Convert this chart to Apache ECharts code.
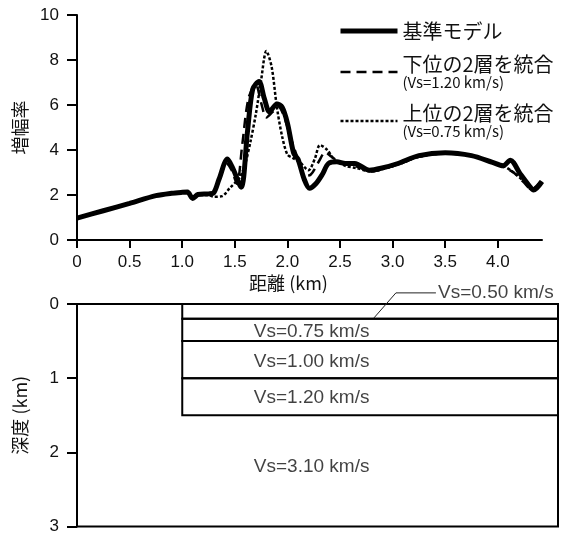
<!DOCTYPE html>
<html>
<head>
<meta charset="utf-8">
<script src="https://cdn.jsdelivr.net/npm/echarts@6/dist/echarts.min.js"></script>
<style>
html, body { margin: 0; padding: 0; background: #fff; }
#echart { width: 573px; height: 535px; }
</style>
</head>
<body>
<div id="echart"></div>
<script>
// 増幅率 (top chart)
var baseKm  = [0, 0.25, 0.5, 0.75, 0.9, 1.0, 1.05, 1.1, 1.15, 1.25, 1.3, 1.35, 1.43, 1.48, 1.56, 1.62, 1.67, 1.73, 1.78, 1.83, 1.9, 1.95, 2.0, 2.06, 2.1, 2.16, 2.21, 2.27, 2.33, 2.39, 2.47, 2.55, 2.64, 2.78, 2.9, 3.05, 3.25, 3.5, 3.75, 3.95, 4.05, 4.12, 4.21, 4.3, 4.34, 4.42];
var baseAmp = [0.97, 1.3, 1.63, 1.97, 2.08, 2.12, 2.13, 1.85, 2.02, 2.05, 2.1, 2.7, 3.6, 3.2, 2.35, 4.8, 6.7, 7.05, 6.3, 5.7, 6.05, 5.9, 5.2, 3.85, 3.6, 2.7, 2.3, 2.5, 2.9, 3.4, 3.48, 3.4, 3.4, 3.1, 3.2, 3.4, 3.75, 3.88, 3.75, 3.45, 3.3, 3.55, 2.96, 2.4, 2.22, 2.6];

var lowerKm  = [0, 0.25, 0.5, 0.75, 0.9, 1.0, 1.05, 1.1, 1.15, 1.25, 1.3, 1.35, 1.42, 1.47, 1.52, 1.57, 1.63, 1.7, 1.75, 1.8, 1.86, 1.91, 1.96, 2.02, 2.1, 2.16, 2.22, 2.3, 2.36, 2.42, 2.5, 2.6, 2.7, 2.8, 2.9, 3.05, 3.25, 3.5, 3.75, 3.95, 4.05, 4.15, 4.25, 4.32, 4.42];
var lowerAmp = [0.97, 1.3, 1.63, 1.97, 2.08, 2.12, 2.13, 1.87, 2.02, 2.05, 2.1, 2.6, 3.4, 3.1, 2.5, 4.2, 6.3, 6.9, 6.1, 5.45, 5.7, 5.95, 5.6, 4.7, 3.6, 2.85, 2.9, 3.5, 3.9, 3.7, 3.45, 3.35, 3.2, 3.05, 3.15, 3.35, 3.7, 3.85, 3.75, 3.45, 3.25, 3.0, 2.55, 2.25, 2.7];

var upperKm  = [0, 0.25, 0.5, 0.75, 0.9, 1.0, 1.05, 1.1, 1.15, 1.25, 1.3, 1.38, 1.45, 1.55, 1.6, 1.65, 1.7, 1.75, 1.8, 1.85, 1.9, 1.95, 2.0, 2.05, 2.12, 2.2, 2.26, 2.31, 2.38, 2.45, 2.55, 2.65, 2.8, 2.9, 3.05, 3.25, 3.5, 3.75, 3.95, 4.05, 4.15, 4.25, 4.32, 4.42];
var upperAmp = [0.97, 1.3, 1.63, 1.97, 2.08, 2.12, 2.13, 1.87, 2.0, 2.0, 1.92, 1.95, 2.3, 2.8, 3.4, 4.4, 5.6, 7.1, 8.4, 7.7, 5.9, 4.6, 3.8, 3.65, 3.45, 3.1, 3.6, 4.22, 4.0, 3.55, 3.3, 3.2, 3.05, 3.15, 3.35, 3.7, 3.85, 3.75, 3.45, 3.3, 3.0, 2.6, 2.25, 2.6];

var seriesNames = ['基準モデル', '下位の2層を統合', '上位の2層を統合'];
var seriesNotes = ['', '(Vs=1.20 km/s)', '(Vs=0.75 km/s)'];
var distTicks = [0, 0.5, 1.0, 1.5, 2.0, 2.5, 3.0, 3.5, 4.0];

// 深度 (bottom chart)
var layerTop = [0, 0.2, 0.5, 1.0];
var layerBottom = [0.2, 0.5, 1.0, 1.5];
var layerStartKm = 1.0;
var modelEndKm = 4.57;
var vsLabels = ['Vs=0.75 km/s', 'Vs=1.00 km/s', 'Vs=1.20 km/s', 'Vs=3.10 km/s'];
var vsLabelDepth = [0.38, 0.78, 1.27, 2.19];
var vsLabelKm = 1.68;
var surfaceLabel = 'Vs=0.50 km/s';
var surfaceLabelPos = [3.43, -0.15];
var leaderLine = [[2.82, 0.19], [3.03, -0.15], [3.41, -0.15]];

function zip(xs, ys) {
    return xs.map(function (x, i) { return [x, ys[i]]; });
}

var latin = 'Liberation Sans';
var cjk = 'Noto Sans CJK JP';

var myChart = echarts.init(document.getElementById('echart'));

option = {
    backgroundColor: '#fff',
    animation: false,
    legend: {
        orient: 'vertical',
        left: 338,
        top: 21,
        padding: 0,
        itemWidth: 57,
        itemHeight: 14,
        itemGap: 13,
        itemStyle: { opacity: 0 },
        textStyle: {
            fontFamily: cjk,
            fontSize: 20,
            color: '#111',
            rich: {
                t: { fontFamily: cjk, fontSize: 20, color: '#111', lineHeight: 21 },
                s: { fontFamily: cjk, fontSize: 15, color: '#111', lineHeight: 16 }
            }
        },
        formatter: function (name) {
            var i = seriesNames.indexOf(name);
            if (!seriesNotes[i]) return '{t|' + name + '}';
            return '{t|' + name + '}\n{s|' + seriesNotes[i] + '}';
        },
        data: [
            { name: seriesNames[0], lineStyle: { width: 5, type: 'solid' } },
            { name: seriesNames[1], lineStyle: { width: 2.5, type: [10, 6] } },
            { name: seriesNames[2], lineStyle: { width: 2.5, type: [3, 2] } }
        ]
    },
    grid: [
        { left: 77, right: 31, top: 15, bottom: 295 },
        { left: 77, right: 15, top: 304, bottom: 6, show: true, borderColor: '#000', borderWidth: 2 }
    ],
    xAxis: [
        {
            gridIndex: 0,
            type: 'value',
            min: 0,
            max: 4.42,
            name: '距離 (km)',
            nameLocation: 'middle',
            nameGap: 34,
            nameTextStyle: { fontFamily: cjk, fontSize: 18, color: '#111', padding: [0, 42, 0, 0] },
            axisLine: { lineStyle: { color: '#000', width: 2 } },
            axisTick: { customValues: distTicks, length: 8, lineStyle: { color: '#000', width: 2 } },
            axisLabel: {
                customValues: distTicks,
                margin: 14,
                fontFamily: latin,
                fontSize: 17,
                color: '#111',
                formatter: function (v) { return v === 0 ? '0' : v.toFixed(1); }
            },
            splitLine: { show: false }
        },
        {
            gridIndex: 1,
            type: 'value',
            min: 0,
            max: modelEndKm,
            show: false
        }
    ],
    yAxis: [
        {
            gridIndex: 0,
            type: 'value',
            min: 0,
            max: 10,
            interval: 2,
            name: '増幅率',
            nameLocation: 'middle',
            nameRotate: 90,
            nameGap: 46,
            nameTextStyle: { fontFamily: cjk, fontSize: 18, color: '#111' },
            axisLine: { show: true, lineStyle: { color: '#000', width: 2 } },
            axisTick: { show: true, length: 10, lineStyle: { color: '#000', width: 2 } },
            axisLabel: { margin: 18, fontFamily: latin, fontSize: 17, color: '#111' },
            splitLine: { show: false }
        },
        {
            gridIndex: 1,
            type: 'value',
            inverse: true,
            min: 0,
            max: 3,
            interval: 1,
            name: '深度 (km)',
            nameLocation: 'middle',
            nameRotate: 90,
            nameGap: 48,
            nameTextStyle: { fontFamily: cjk, fontSize: 18, color: '#111' },
            axisLine: { show: true, lineStyle: { color: '#000', width: 2 } },
            axisTick: { show: true, length: 10, lineStyle: { color: '#000', width: 2 } },
            axisLabel: { margin: 18, fontFamily: latin, fontSize: 17, color: '#111' },
            splitLine: { show: false }
        }
    ],
    series: [
        {
            name: seriesNames[0],
            type: 'line',
            xAxisIndex: 0,
            yAxisIndex: 0,
            data: zip(baseKm, baseAmp),
            symbol: 'none',
            smooth: 0.3,
            lineStyle: { color: '#000', width: 5 },
            itemStyle: { color: '#000' },
            z: 3
        },
        {
            name: seriesNames[1],
            type: 'line',
            xAxisIndex: 0,
            yAxisIndex: 0,
            data: zip(lowerKm, lowerAmp),
            symbol: 'none',
            smooth: 0.3,
            lineStyle: { color: '#000', width: 2.5, type: [10, 6] },
            itemStyle: { color: '#000' },
            z: 4
        },
        {
            name: seriesNames[2],
            type: 'line',
            xAxisIndex: 0,
            yAxisIndex: 0,
            data: zip(upperKm, upperAmp),
            symbol: 'none',
            smooth: 0.3,
            lineStyle: { color: '#000', width: 2.5, type: [3, 2] },
            itemStyle: { color: '#000' },
            z: 4
        },
        {
            name: 'layers',
            type: 'custom',
            xAxisIndex: 1,
            yAxisIndex: 1,
            data: layerTop.map(function (t, i) { return [layerStartKm, t, modelEndKm, layerBottom[i]]; }),
            renderItem: function (params, api) {
                var p0 = api.coord([api.value(0), api.value(1)]);
                var p1 = api.coord([api.value(2), api.value(3)]);
                return {
                    type: 'rect',
                    shape: { x: p0[0], y: p0[1], width: p1[0] - p0[0], height: p1[1] - p0[1] },
                    style: { fill: 'none', stroke: '#000', lineWidth: 2 }
                };
            },
            z: 2
        },
        {
            name: 'vsLabels',
            type: 'scatter',
            xAxisIndex: 1,
            yAxisIndex: 1,
            symbolSize: 0,
            clip: false,
            data: vsLabels.map(function (s, i) { return { value: [vsLabelKm, vsLabelDepth[i]], name: s }; })
                .concat([{ value: surfaceLabelPos, name: surfaceLabel }]),
            label: {
                show: true,
                position: 'right',
                distance: 0,
                formatter: '{b}',
                fontFamily: latin,
                fontSize: 19,
                color: '#111'
            },
            z: 5
        },
        {
            name: 'leader',
            type: 'line',
            xAxisIndex: 1,
            yAxisIndex: 1,
            data: leaderLine,
            clip: false,
            symbol: 'none',
            lineStyle: { color: '#222', width: 1 },
            z: 5
        }
    ]
};
myChart.setOption(option);
</script>
</body>
</html>
